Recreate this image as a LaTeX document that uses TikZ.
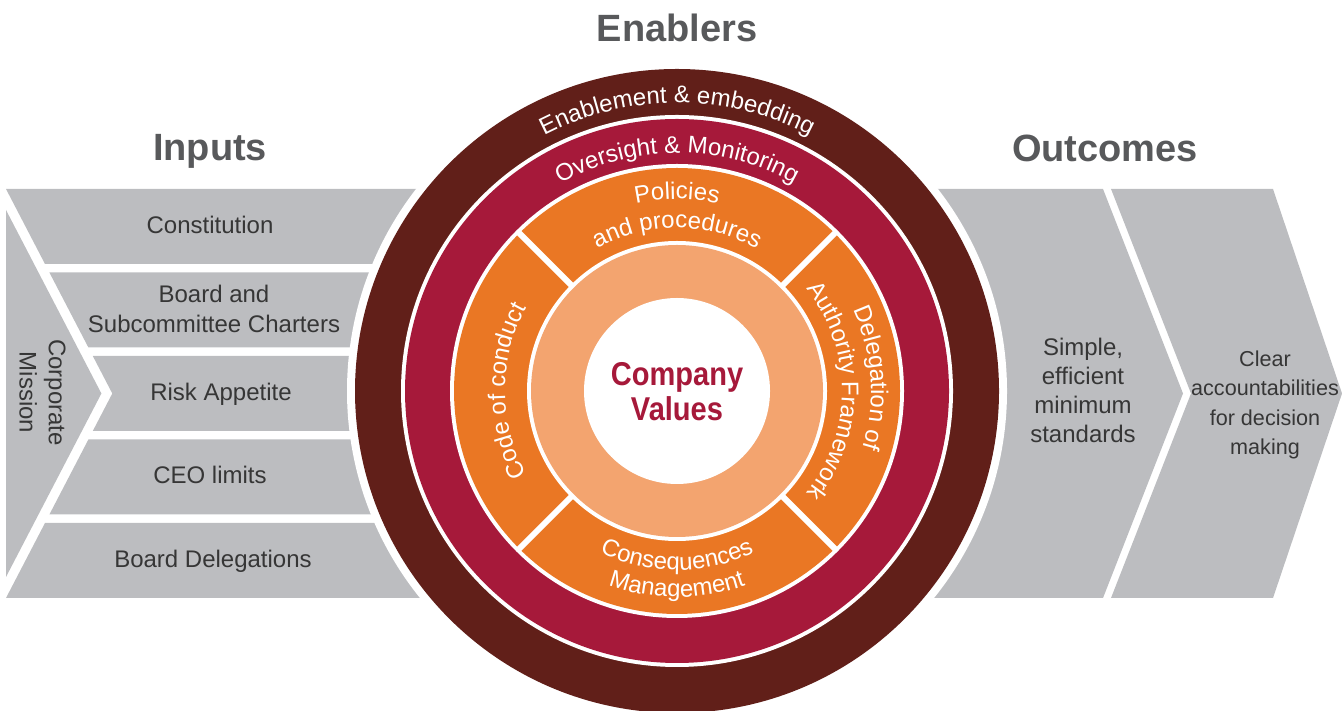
\documentclass[tikz,border=0pt]{standalone}
\usepackage{fontspec}
\setmainfont{Liberation Sans}
\newfontfamily\valuesfont[FakeStretch=0.88]{Liberation Sans}
\usepackage{tikz}
\usetikzlibrary{decorations.text}

\definecolor{ringdark}{HTML}{611F19}
\definecolor{ringred}{HTML}{A6193A}
\definecolor{ringorange}{HTML}{EA7724}
\definecolor{corepeach}{HTML}{F3A46F}
\definecolor{panelgrey}{HTML}{BCBDC0}
\definecolor{labelgrey}{HTML}{363636}
\definecolor{headgrey}{HTML}{58595B}

\newcommand{\ringfont}{\fontsize{12}{13}\selectfont}
\newcommand{\labelfont}{\fontsize{12}{14.6}\selectfont}
\newcommand{\headfont}{\fontsize{19}{22}\selectfont\bfseries}

\tikzset{
	panel/.style={fill=panelgrey},
	rowtext/.style={text=labelgrey, font=\labelfont, align=center, inner sep=0pt},
	heading/.style={text=headgrey, font=\headfont, inner sep=0pt, anchor=base},
	valuetext/.style={text=ringred, font=\valuesfont\fontsize{16.5}{18}\selectfont\bfseries, inner sep=0pt, anchor=base},
	ringtext/.style={decorate, decoration={text along path, text align=center, text color=white, text={|\ringfont|#1}}},
	divider/.style={white, line width=3pt},
}

\begin{document}
\begin{tikzpicture}[x=0.5pt, y=0.5pt]
	\useasboundingbox (0,0) rectangle (1342,711);
	\coordinate (hub) at (677,320);

	% input rows and the mission chevron
	\fill[panel] (6,522) -- (440,522) -- (440,447) -- (45,447) -- cycle;
	\fill[panel] (49.4,438.5) -- (440,438.5) -- (440,363.5) -- (88.4,363.5) -- cycle;
	\fill[panel] (92.8,355) -- (440,355) -- (440,280) -- (92.8,280) -- (112.3,317.5) -- cycle;
	\fill[panel] (88.4,271.5) -- (440,271.5) -- (440,196.5) -- (49.4,196.5) -- cycle;
	\fill[panel] (45,188) -- (440,188) -- (440,113) -- (6,113) -- cycle;
	\fill[panel] (6,501) -- (101.4,317.5) -- (6,134) -- cycle;

	% outcome chevrons
	\fill[panel] (900,522) -- (1103,522) -- (1183,317.5) -- (1103,113) -- (900,113) -- cycle;
	\fill[panel] (1111,522) -- (1273,522) -- (1342,317.5) -- (1273,113) -- (1111,113) -- (1191,317.5) -- cycle;

	% rings
	\fill[white] (hub) circle[radius=330];
	\fill[ringdark] (hub) circle[radius=322];
	\fill[white] (hub) circle[radius=276];
	\fill[ringred] (hub) circle[radius=272];
	\fill[white] (hub) circle[radius=227];
	\fill[ringorange] (hub) circle[radius=223];
	\fill[white] (hub) circle[radius=150];
	\fill[corepeach] (hub) circle[radius=146];
	\fill[white] (hub) circle[radius=93];
	\foreach \a in {45,135,225,315}
		\draw[divider] ([shift={(\a:147)}]hub) -- ([shift={(\a:225)}]hub);

	% ring labels
	\path[ringtext={Enablement {\&} embedding}] ([shift={(150:288)}]hub) arc[start angle=150, end angle=30, radius=288];
	\path[ringtext={Oversight {\&} Monitoring}] ([shift={(150:238)}]hub) arc[start angle=150, end angle=30, radius=238];
	\path[ringtext={Policies}] ([shift={(140:192)}]hub) arc[start angle=140, end angle=40, radius=192];
	\path[ringtext={and procedures}] ([shift={(140:163)}]hub) arc[start angle=140, end angle=40, radius=163];
	\path[ringtext={Code of conduct}] ([shift={(230:172)}]hub) arc[start angle=230, end angle=130, radius=172];
	\path[ringtext={Delegation of}] ([shift={(49:194)}]hub) arc[start angle=49, end angle=-41, radius=194];
	\path[ringtext={Authority Framework}] ([shift={(50:165)}]hub) arc[start angle=50, end angle=-50, radius=165];
	\path[ringtext={Consequences}] ([shift={(200:179)}]hub) arc[start angle=200, end angle=340, radius=179];
	\path[ringtext={Management}] ([shift={(200:206)}]hub) arc[start angle=200, end angle=340, radius=206];

	\node[valuetext] (company) at (677,325) {Company};
	\node[valuetext] (values) at (677,290) {Values};

	% headings
	\node[heading] (enablers) at (677,669) {Enablers};
	\node[heading] (inputs) at (210,550) {Inputs};
	\node[heading] (outcomes) at (1105,549) {Outcomes};

	% panel texts
	\node[rowtext, anchor=base] (constitution) at (210,477) {Constitution};
	\node[rowtext] (charters) at (214,402) {Board and\\Subcommittee Charters};
	\node[rowtext, anchor=base] (appetite) at (221,310) {Risk Appetite};
	\node[rowtext, anchor=base] (ceo) at (210,227) {CEO limits};
	\node[rowtext, anchor=base] (delegations) at (213,143) {Board Delegations};
	\node[rowtext, rotate=-90] (mission) at (42.5,318.5) {Corporate\\Mission};
	\node[rowtext] (standards) at (1083,320.5) {Simple,\\efficient\\minimum\\standards};
	\node[rowtext, font=\fontsize{10.8}{14.6}\selectfont] (clarity) at (1265,306) {Clear\\accountabilities\\for decision\\making};
\end{tikzpicture}
\end{document}
